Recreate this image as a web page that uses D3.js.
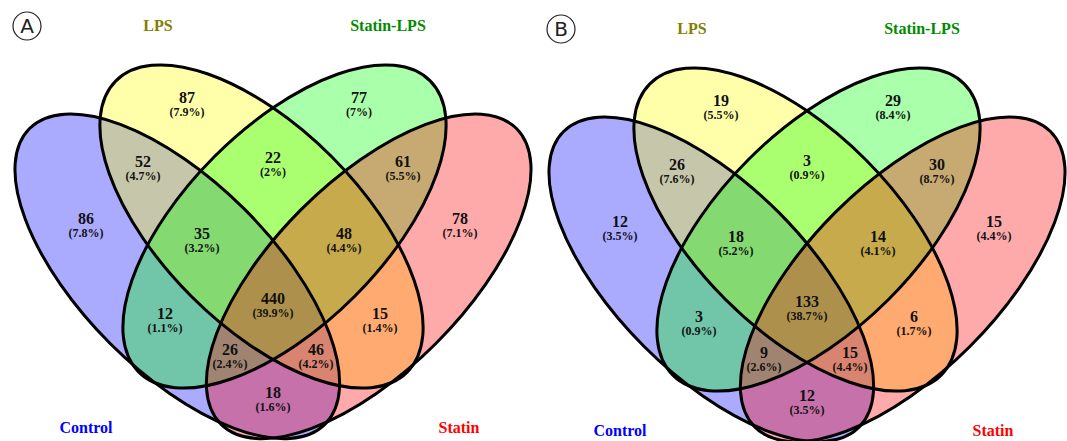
<!DOCTYPE html>
<html>
<head>
<meta charset="utf-8">
<script src="https://cdn.jsdelivr.net/npm/d3@7"></script>
<style>
  html, body { margin: 0; padding: 0; background: #fff; }
  svg { display: block; }
</style>
</head>
<body>
<div id="chart"></div>
<script>
// set names, in drawing order
const sets = ['Control', 'LPS', 'Statin-LPS', 'Statin'];
const setColors = ['#0000ff', '#ffff00', '#00ff00', '#ff0000'];
const catColors = ['#0000ff', '#808000', '#008b00', '#ff0000'];

// regions of the 4-set diagram (which sets are in each)
const regions = [
  ['Control'], ['LPS'], ['Statin-LPS'], ['Statin'],
  ['Control', 'LPS'], ['LPS', 'Statin-LPS'], ['Statin-LPS', 'Statin'],
  ['Control', 'LPS', 'Statin-LPS'], ['LPS', 'Statin-LPS', 'Statin'],
  ['Control', 'LPS', 'Statin-LPS', 'Statin'],
  ['Control', 'Statin-LPS'], ['LPS', 'Statin'],
  ['Control', 'Statin-LPS', 'Statin'], ['Control', 'LPS', 'Statin'],
  ['Control', 'Statin']
];

// counts per region, same order as regions
const countsA = [86, 87, 77, 78, 52, 22, 61, 35, 48, 440, 12, 15, 26, 46, 18];
const countsB = [12, 19, 29, 15, 26, 3, 30, 18, 14, 133, 3, 6, 9, 15, 12];

const panels = [
  { tag: 'A', counts: countsA, ox: 273, oy: 0 },
  { tag: 'B', counts: countsB, ox: 807, oy: 3 }
];

// layout of the diagram (design units, axis of symmetry at x = 0)
const ellipses = [
  { set: 'Control',    cx: -95.7, cy: 276.3, a: 209, b: 95, angle: 45 },
  { set: 'LPS',        cx: -11.5, cy: 226.5, a: 206, b: 99, angle: 45 },
  { set: 'Statin-LPS', cx: 11.5,  cy: 226.5, a: 206, b: 99, angle: -45 },
  { set: 'Statin',     cx: 95.7,  cy: 276.3, a: 209, b: 95, angle: -45 }
];
const labelPos = [
  [-187, 218], [-86, 97], [86, 97], [187, 218],
  [-130, 161], [0, 157], [130, 161],
  [-71, 233], [71, 233],
  [0, 298],
  [-108, 313], [107, 313],
  [-43, 349], [43, 349],
  [0, 392]
];
const catPos = [[-187, 427], [-115, 25], [115, 25], [186, 427]];

const W = 1067, H = 441;
const svg = d3.select('#chart').append('svg')
  .attr('width', W)
  .attr('height', H);

svg.append('rect').attr('width', W).attr('height', H).attr('fill', '#fff');

const fmtPct = v => `(${+(v * 100).toFixed(1)}%)`;
const font = "'Liberation Serif', 'Times New Roman', serif";

panels.forEach(p => {
  const x = d3.scaleLinear().domain([-270, 270]).range([p.ox - 270, p.ox + 270]);
  const y = d3.scaleLinear().domain([0, 441]).range([p.oy, p.oy + 441]);
  const k = x(1) - x(0);
  const total = d3.sum(p.counts);

  const g = svg.append('g');

  // fills, blended in drawing order
  g.selectAll('ellipse.fill')
    .data(ellipses)
    .enter()
    .append('ellipse')
    .attr('class', 'fill')
    .attr('cx', d => x(d.cx))
    .attr('cy', d => y(d.cy))
    .attr('rx', d => d.a * k)
    .attr('ry', d => d.b * k)
    .attr('transform', d => `rotate(${d.angle},${x(d.cx)},${y(d.cy)})`)
    .attr('fill', d => setColors[sets.indexOf(d.set)])
    .attr('fill-opacity', 1 / 3);

  // outlines on top
  g.selectAll('ellipse.line')
    .data(ellipses)
    .enter()
    .append('ellipse')
    .attr('class', 'line')
    .attr('cx', d => x(d.cx))
    .attr('cy', d => y(d.cy))
    .attr('rx', d => d.a * k)
    .attr('ry', d => d.b * k)
    .attr('transform', d => `rotate(${d.angle},${x(d.cx)},${y(d.cy)})`)
    .attr('fill', 'none')
    .attr('stroke', '#000')
    .attr('stroke-width', 3);

  // region counts and percentages
  const lab = g.selectAll('g.lab')
    .data(p.counts)
    .enter()
    .append('g')
    .attr('class', 'lab')
    .attr('transform', (d, i) => `translate(${x(labelPos[i][0])},${y(labelPos[i][1])})`);

  lab.append('text')
    .attr('text-anchor', 'middle')
    .attr('y', 5.5)
    .style('font-family', font)
    .style('font-weight', 'bold')
    .style('font-size', '16px')
    .attr('fill', '#111')
    .text(d => d);

  lab.append('text')
    .attr('text-anchor', 'middle')
    .attr('y', 19)
    .style('font-family', font)
    .style('font-weight', 'bold')
    .style('font-size', '12px')
    .attr('fill', '#111')
    .text(d => fmtPct(d / total));

  // category names
  g.selectAll('text.cat')
    .data(sets)
    .enter()
    .append('text')
    .attr('class', 'cat')
    .attr('x', (d, i) => x(catPos[i][0]))
    .attr('y', (d, i) => y(catPos[i][1]) + 5.5)
    .attr('text-anchor', 'middle')
    .style('font-family', font)
    .style('font-weight', 'bold')
    .style('font-size', '16px')
    .attr('fill', (d, i) => catColors[i])
    .text(d => d);

  // panel marker
  g.append('circle')
    .attr('cx', x(-246))
    .attr('cy', y(26))
    .attr('r', 14)
    .attr('fill', '#fff')
    .attr('stroke', '#222')
    .attr('stroke-width', 1.2);

  g.append('text')
    .attr('x', x(-246))
    .attr('y', y(26) + 7)
    .attr('text-anchor', 'middle')
    .style('font-family', "'DejaVu Sans', Arial, sans-serif")
    .style('font-size', '20px')
    .attr('fill', '#222')
    .text(p.tag);
});
</script>
</body>
</html>
